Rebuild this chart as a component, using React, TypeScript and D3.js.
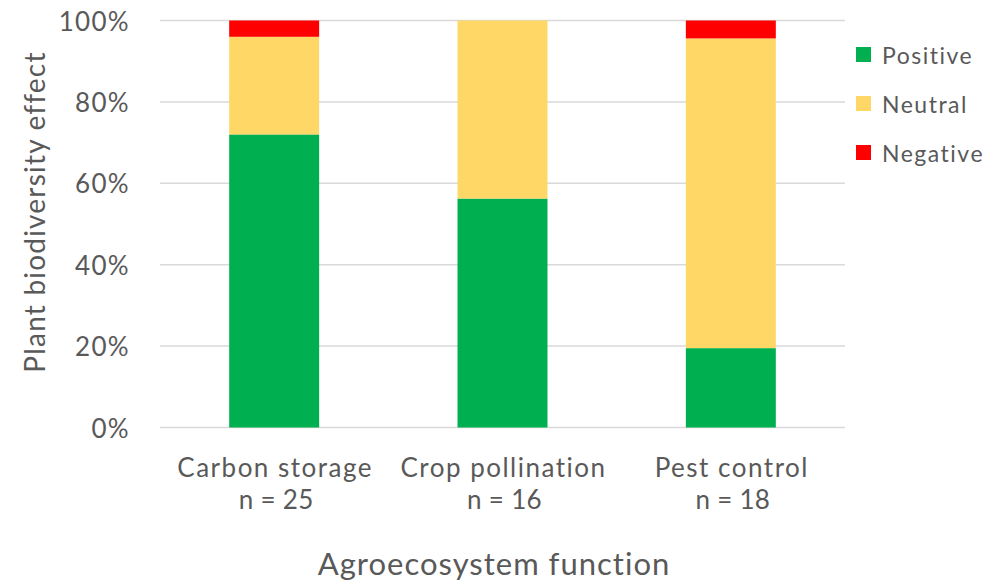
import React from "react";
import * as d3 from "d3";

const categories = ["Carbon storage", "Crop pollination", "Pest control"];
const sampleSizes = ["n = 25", "n = 16", "n = 18"];
const seriesNames = ["Positive", "Neutral", "Negative"];
const positive = [0.72, 0.5625, 0.195];
const neutral = [0.24, 0.4375, 0.761];
const negative = [0.04, 0, 0.044];
const yTicks = [0, 0.2, 0.4, 0.6, 0.8, 1.0];
const colors = ["#00B050", "#FED766", "#FF0000"];

const W = 990;
const H = 582;
const FONT = "Lato, 'Open Sans', sans-serif";
const TEXT = "#595959";

export default function App() {
  const x = d3
    .scaleBand<string>()
    .domain(categories)
    .range([160, 845])
    .paddingInner(0.606)
    .paddingOuter(0.303);
  const y = d3.scaleLinear().domain([0, 1]).range([427.5, 20.5]);

  const rows = categories.map((c, i) => ({
    cat: c,
    Positive: positive[i],
    Neutral: neutral[i],
    Negative: negative[i],
  }));
  const stacked = d3.stack<any>().keys(seriesNames)(rows);
  const fmt = d3.format(".0%");

  return (
    <div style={{ position: "absolute", left: 0, top: 0 }}>
      <svg width={W} height={H} style={{ display: "block", background: "#fff" }} fontFamily={FONT}>
        {yTicks.map((t) => (
          <g key={t}>
            <line x1={160} x2={845} y1={y(t)} y2={y(t)} stroke="#D9D9D9" strokeWidth={1.5} />
            <text x={130} y={y(t)} textAnchor="end" dominantBaseline="central" fontSize={26} letterSpacing={1.3} fill={TEXT}>
              {fmt(t)}
            </text>
          </g>
        ))}
        {stacked.map((s, si) => (
          <g key={s.key} fill={colors[si]}>
            {s.map((d, i) =>
              d[1] - d[0] > 0 ? (
                <rect
                  key={i}
                  x={x(categories[i])}
                  width={x.bandwidth()}
                  y={y(d[1])}
                  height={y(d[0]) - y(d[1])}
                />
              ) : null
            )}
          </g>
        ))}
        {categories.map((c, i) => (
          <g key={c}>
            <text x={(x(c) as number) + x.bandwidth() / 2 + 1} y={477} textAnchor="middle" fontSize={26} letterSpacing={1.5} fill={TEXT}>
              {c}
            </text>
            <text x={(x(c) as number) + x.bandwidth() / 2 + 2} y={509} textAnchor="middle" fontSize={26} letterSpacing={0.3} fill={TEXT}>
              {sampleSizes[i]}
            </text>
          </g>
        ))}
        {seriesNames.map((n, i) => (
          <g key={n} transform={`translate(856, ${54.5 + i * 49})`}>
            <rect x={0} y={-7.5} width={15} height={15} fill={colors[i]} />
            <text x={26} y={0} dominantBaseline="central" fontSize={23} letterSpacing={1.5} fill={TEXT}>
              {n}
            </text>
          </g>
        ))}
        <text x={494} y={575} textAnchor="middle" fontSize={31} letterSpacing={1} fill={TEXT}>
          Agroecosystem function
        </text>
        <text
          transform={`translate(45, 212) rotate(-90)`}
          textAnchor="middle"
          fontSize={28}
          letterSpacing={1.2}
          fill={TEXT}
        >
          Plant biodiversity effect
        </text>
      </svg>
    </div>
  );
}
